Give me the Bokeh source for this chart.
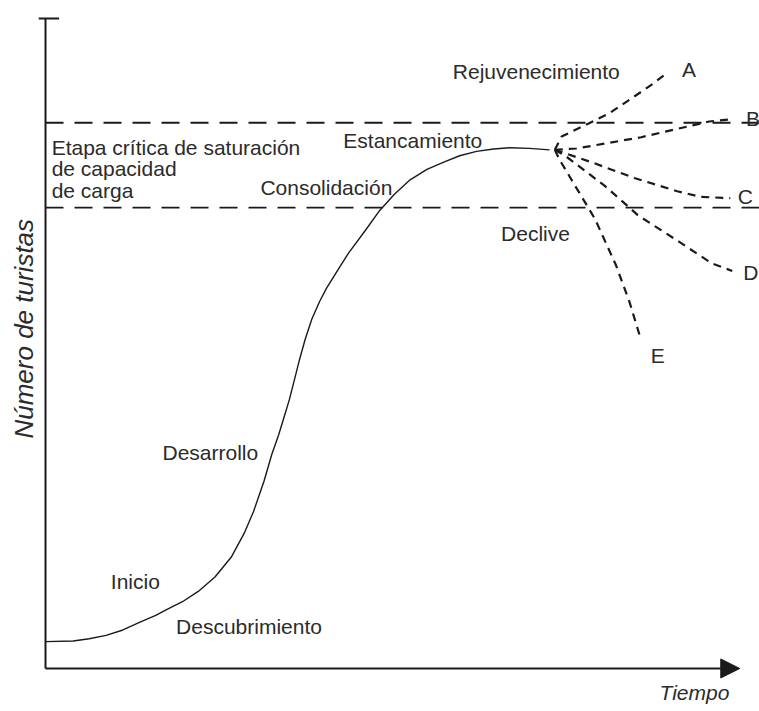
import math
from bokeh.plotting import figure
from bokeh.models import Range1d, Arrow, NormalHead
from bokeh.core.properties import value
from bokeh.embed import file_html
from bokeh.resources import INLINE

# ---- data (time units 0..100, tourists units 0..100) ----
time_main = [0, 4.07, 6.42, 8.91, 11.39, 13.73, 16.21, 17.66, 20.14, 22.46, 24.92, 27.36,
             29.21, 30.61, 32.14, 33.26, 34.29, 35.11, 35.87, 36.62, 37.37, 38.20, 39.17,
             40.29, 41.29, 43.14, 44.56, 47.0, 49.15, 51.31, 53.62, 56.09, 58.57, 60.90,
             63.39, 65.89, 68.24, 71.19, 74.13]
tourists_main = [4.28, 4.37, 4.74, 5.27, 6.13, 7.29, 8.47, 9.30, 10.63, 12.27, 14.56, 17.80,
                 21.51, 25.05, 29.86, 34.03, 37.23, 40.12, 42.85, 46.05, 49.25, 52.46, 55.66,
                 58.40, 60.49, 63.72, 66.14, 69.70, 72.94, 75.53, 77.82, 79.47, 80.64, 81.65,
                 82.34, 82.72, 82.93, 82.83, 82.58]

capacity_upper = 86.9
capacity_lower = 73.4
capacity_span = [0, 106]

branch_A_t = [74.9, 75.9, 82.9, 89.2, 91.1]
branch_A_n = [82.6, 84.7, 88.4, 93.0, 94.6]
branch_B_t = [74.9, 78.1, 87.6, 97.6, 101.1]
branch_B_n = [82.6, 82.8, 84.6, 87.1, 87.5]
branch_C_t = [74.9, 80.6, 86.6, 92.9, 96.3, 100.7]
branch_C_n = [82.6, 80.5, 78.1, 76.0, 75.1, 74.9]
branch_D_t = [74.9, 76.6, 82.2, 87.1, 93.1, 98.0, 101.0]
branch_D_n = [82.6, 81.5, 76.9, 72.2, 68.0, 64.5, 63.3]
branch_E_t = [74.9, 75.6, 77.7, 80.8, 83.9, 85.9, 87.5]
branch_E_n = [82.6, 81.0, 77.2, 71.6, 64.2, 58.3, 52.6]

branch_labels = ["A", "B", "C", "D", "E"]
branch_label_t = [93.6, 103.0, 101.8, 102.6, 89.0]
branch_label_n = [94.2, 86.4, 74.1, 61.9, 48.7]

stage_labels = ["Rejuvenecimiento", "Estancamiento", "Etapa crítica de saturación",
                "de capacidad", "de carga", "Consolidación", "Declive", "Desarrollo",
                "Inicio", "Descubrimiento"]
stage_t = [59.9, 43.8, 0.9, 0.9, 0.9, 31.6, 67.0, 17.2, 9.6, 19.2]
stage_n = [94.0, 83.0, 81.9, 78.5, 75.0, 75.4, 68.1, 33.2, 12.8, 5.5]

y_axis_top = 103.5
x_axis_end = 102.1
x_title = "Tiempo"
y_title = "Número de turistas"

# ---- figure ----
W, H = 759, 711
p = figure(width=W, height=H, output_backend="svg", toolbar_location=None,
           x_range=Range1d(-6.62, 105.0), y_range=Range1d(-6.85, 106.37),
           min_border=0, x_axis_type=None, y_axis_type=None)
p.outline_line_color = None
p.xgrid.visible = False
p.ygrid.visible = False
p.background_fill_color = "white"
p.border_fill_color = "white"

ink = "#1a1a1a"
txt = "#2b2b2b"
font = value("Liberation Sans")
shift = -7  # pixel nudge so the glyph baseline sits on the anchor

# axes
p.line([0, 0], [0, y_axis_top], line_color=ink, line_width=2)
p.line([-1.0, 2.0], [y_axis_top, y_axis_top], line_color=ink, line_width=2)
p.add_layout(Arrow(end=NormalHead(size=19, fill_color=ink, line_color=ink),
                   x_start=0, y_start=0, x_end=x_axis_end, y_end=0,
                   line_color=ink, line_width=2))

# carrying capacity band
for lvl in (capacity_upper, capacity_lower):
    p.line(capacity_span, [lvl, lvl], line_color=ink, line_width=1.8, line_dash="18 11")

# main curve
p.line(time_main, tourists_main, line_color=ink, line_width=1.4, line_join="round")

# branches
for bt, bn in [(branch_A_t, branch_A_n), (branch_B_t, branch_B_n), (branch_C_t, branch_C_n),
               (branch_D_t, branch_D_n), (branch_E_t, branch_E_n)]:
    p.line(bt, bn, line_color=ink, line_width=2.2, line_dash="8 6")

# labels
p.text(x=stage_t, y=stage_n, text=stage_labels, text_font=font, text_font_size=value("21px"),
       text_color=txt, text_align="left", text_baseline="alphabetic", y_offset=shift)
p.text(x=branch_label_t, y=branch_label_n, text=branch_labels, text_font=font,
       text_font_size=value("21px"), text_color=txt, text_align="left",
       text_baseline="alphabetic", y_offset=shift)

p.text(x=[90.3], y=[-5.0], text=[x_title], text_font=font, text_font_size=value("21px"),
       text_font_style="italic", text_color=txt, text_align="left", text_baseline="alphabetic",
       y_offset=shift)
p.text(x=[-2.15], y=[54.1], text=[y_title], text_font=font, text_font_size=value("26px"),
       text_font_style="italic", text_color=txt, text_align="center", text_baseline="alphabetic",
       angle=math.pi / 2, x_offset=shift)

open("out.html", "w").write(file_html(p, INLINE))
